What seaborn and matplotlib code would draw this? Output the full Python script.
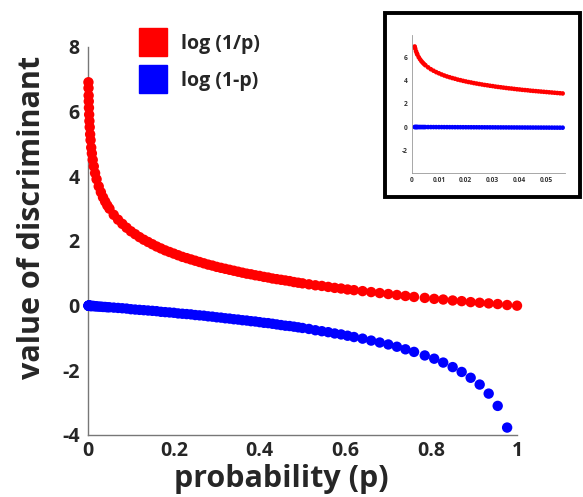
import numpy as np
import pandas as pd
import matplotlib
matplotlib.use("Agg")
import matplotlib.pyplot as plt
from matplotlib.lines import Line2D
from matplotlib.patches import Rectangle
import seaborn as sns

# ---------------- data ----------------
p_main = [0.001, 0.0012, 0.0015, 0.0018, 0.0022, 0.0027, 0.0033, 0.004, 0.005, 0.006,
          0.0075, 0.009, 0.011, 0.0135, 0.0165, 0.02, 0.025, 0.03, 0.035, 0.04, 0.045, 0.05,
          0.06, 0.07, 0.08, 0.09, 0.10, 0.11, 0.12, 0.13, 0.14, 0.15,
          0.16, 0.17, 0.18, 0.19, 0.20, 0.21, 0.22, 0.23, 0.24, 0.25,
          0.26, 0.27, 0.28, 0.29, 0.30, 0.31, 0.32, 0.33, 0.34, 0.35,
          0.36, 0.37, 0.38, 0.39, 0.40, 0.41, 0.42, 0.43, 0.44, 0.45,
          0.46, 0.47, 0.48, 0.49, 0.50,
          0.515, 0.53, 0.545, 0.56, 0.575, 0.59, 0.605, 0.62,
          0.64, 0.66, 0.68, 0.70, 0.72, 0.74, 0.76, 0.785,
          0.807, 0.828, 0.85, 0.871, 0.892, 0.913, 0.934, 0.955, 0.977, 1.0]

log_inv_p = [6.91, 6.73, 6.50, 6.32, 6.12, 5.91, 5.71, 5.52, 5.30, 5.12,
             4.89, 4.71, 4.51, 4.31, 4.10, 3.91, 3.69, 3.51, 3.35, 3.22, 3.10, 3.00,
             2.81, 2.66, 2.53, 2.41, 2.30, 2.21, 2.12, 2.04, 1.97, 1.90,
             1.83, 1.77, 1.71, 1.66, 1.61, 1.56, 1.51, 1.47, 1.43, 1.39,
             1.35, 1.31, 1.27, 1.24, 1.20, 1.17, 1.14, 1.11, 1.08, 1.05,
             1.02, 0.99, 0.97, 0.94, 0.92, 0.89, 0.87, 0.84, 0.82, 0.80,
             0.78, 0.76, 0.73, 0.71, 0.69,
             0.66, 0.63, 0.61, 0.58, 0.55, 0.53, 0.50, 0.48,
             0.45, 0.42, 0.39, 0.36, 0.33, 0.30, 0.27, 0.24,
             0.21, 0.19, 0.16, 0.14, 0.11, 0.09, 0.07, 0.05, 0.02, 0.00]

log_one_minus_p = [-0.00, -0.00, -0.00, -0.00, -0.00, -0.00, -0.00, -0.00, -0.01, -0.01,
                   -0.01, -0.01, -0.01, -0.01, -0.02, -0.02, -0.03, -0.03, -0.04, -0.04, -0.05, -0.05,
                   -0.06, -0.07, -0.08, -0.09, -0.11, -0.12, -0.13, -0.14, -0.15, -0.16,
                   -0.17, -0.19, -0.20, -0.21, -0.22, -0.24, -0.25, -0.26, -0.27, -0.29,
                   -0.30, -0.31, -0.33, -0.34, -0.36, -0.37, -0.39, -0.40, -0.42, -0.43,
                   -0.45, -0.46, -0.48, -0.49, -0.51, -0.53, -0.54, -0.56, -0.58, -0.60,
                   -0.62, -0.63, -0.65, -0.67, -0.69,
                   -0.72, -0.76, -0.79, -0.82, -0.86, -0.89, -0.93, -0.97,
                   -1.02, -1.08, -1.14, -1.20, -1.27, -1.35, -1.43, -1.54,
                   -1.64, -1.76, -1.90, -2.05, -2.23, -2.44, -2.72, -3.10, -3.77, np.nan]

p_inset = [0.001, 0.0012, 0.0015, 0.0018, 0.002, 0.0025, 0.003, 0.0035, 0.004, 0.0045,
           0.005, 0.006, 0.007, 0.008, 0.009, 0.010, 0.011, 0.012, 0.013, 0.014,
           0.015, 0.016, 0.017, 0.018, 0.019, 0.020, 0.021, 0.022, 0.023, 0.024,
           0.025, 0.026, 0.027, 0.028, 0.029, 0.030, 0.031, 0.032, 0.033, 0.034,
           0.035, 0.036, 0.037, 0.038, 0.039, 0.040, 0.041, 0.042, 0.043, 0.044,
           0.045, 0.046, 0.047, 0.048, 0.049, 0.050, 0.051, 0.052, 0.053, 0.054,
           0.055, 0.056]

inset_log_inv_p = [6.91, 6.73, 6.50, 6.32, 6.21, 5.99, 5.81, 5.65, 5.52, 5.40,
                   5.30, 5.12, 4.96, 4.83, 4.71, 4.61, 4.51, 4.42, 4.34, 4.27,
                   4.20, 4.14, 4.07, 4.02, 3.96, 3.91, 3.86, 3.82, 3.77, 3.73,
                   3.69, 3.65, 3.61, 3.58, 3.54, 3.51, 3.47, 3.44, 3.41, 3.38,
                   3.35, 3.32, 3.30, 3.27, 3.24, 3.22, 3.19, 3.17, 3.15, 3.12,
                   3.10, 3.08, 3.06, 3.04, 3.02, 3.00, 2.98, 2.96, 2.94, 2.92,
                   2.90, 2.88]

inset_log_one_minus_p = [-0.001, -0.001, -0.002, -0.002, -0.002, -0.003, -0.003, -0.004, -0.004, -0.005,
                         -0.005, -0.006, -0.007, -0.008, -0.009, -0.010, -0.011, -0.012, -0.013, -0.014,
                         -0.015, -0.016, -0.017, -0.018, -0.019, -0.020, -0.021, -0.022, -0.023, -0.024,
                         -0.025, -0.026, -0.027, -0.028, -0.029, -0.030, -0.031, -0.033, -0.034, -0.035,
                         -0.036, -0.037, -0.038, -0.039, -0.040, -0.041, -0.042, -0.043, -0.044, -0.045,
                         -0.046, -0.047, -0.048, -0.049, -0.050, -0.051, -0.052, -0.053, -0.055, -0.056,
                         -0.057, -0.058]

series_names = ["log (1/p)", "log (1-p)"]
series_colors = ["#ff0000", "#0000ff"]

main_xticks = [0, 0.2, 0.4, 0.6, 0.8, 1]
main_xticklabels = ["0", "0.2", "0.4", "0.6", "0.8", "1"]
main_yticks = [-4, -2, 0, 2, 4, 6, 8]
main_yticklabels = ["-4", "-2", "0", "2", "4", "6", "8"]
inset_xticks = [0, 0.01, 0.02, 0.03, 0.04, 0.05]
inset_xticklabels = ["0", "0.01", "0.02", "0.03", "0.04", "0.05"]
inset_yticks = [-2, 0, 2, 4, 6]
inset_yticklabels = ["-2", "0", "2", "4", "6"]

# ---------------- styling ----------------
sns.set_style("white")
plt.rcParams["font.family"] = ["Open Sans", "DejaVu Sans"]

W, H = 583, 497
fig = plt.figure(figsize=(W / 100, H / 100), dpi=100)

def fx(px):
    return px / W

def fy(py):
    return 1 - py / H

# main axes: x 0 at px 88, 1 at px 517 ; y 8 at px 47, -4 at px 435
ax = fig.add_axes([fx(88), fy(435), fx(517) - fx(88), fy(47) - fy(435)])

main_df = pd.DataFrame({
    "p": p_main * 2,
    "value": log_inv_p + log_one_minus_p,
    "series": [series_names[0]] * len(p_main) + [series_names[1]] * len(p_main),
}).dropna()

sns.scatterplot(data=main_df, x="p", y="value", hue="series",
                palette=dict(zip(series_names, series_colors)),
                s=56, linewidth=0, edgecolor="none", legend=False, ax=ax, zorder=3,
                clip_on=False)

ax.set_xlim(0, 1)
ax.set_ylim(-4, 8)
ax.set_xticks(main_xticks)
ax.set_xticklabels(main_xticklabels)
ax.set_yticks(main_yticks)
ax.set_yticklabels(main_yticklabels)
for lab in ax.get_xticklabels() + ax.get_yticklabels():
    lab.set_fontweight("bold")
    lab.set_fontsize(14)
ax.tick_params(direction="in", length=4, width=1, color="#777777", pad=4)
ax.tick_params(axis="y", pad=6)
for s in ["top", "right"]:
    ax.spines[s].set_visible(False)
for s in ["left", "bottom"]:
    ax.spines[s].set_color("#777777")
    ax.spines[s].set_linewidth(1.0)
ax.set_xlabel("probability (p)", fontsize=22, fontweight="bold")
ax.set_ylabel("value of discriminant", fontsize=22, fontweight="bold")
ax.xaxis.set_label_coords(0.45, -0.075)
ax.yaxis.set_label_coords(-0.095, 0.56)
ax.patch.set_alpha(0)

# legend
handles = [Line2D([0], [0], marker="s", linestyle="none", markersize=20,
                  markerfacecolor=c, markeredgecolor=c) for c in series_colors]
leg = fig.legend(handles, series_names, loc="upper left",
                 bbox_to_anchor=(fx(120), fy(20)), frameon=False,
                 prop={"weight": "bold", "size": 14},
                 handletextpad=0.45, labelspacing=0.9, borderpad=0.2)

# inset box
box = Rectangle((fx(385), fy(197)), fx(580) - fx(385), fy(13) - fy(197),
                transform=fig.transFigure, fill=True, facecolor="white",
                edgecolor="black", linewidth=2.8, zorder=5)
fig.add_artist(box)

# inset axes: x 0 at px 412, 0.01 per 26.9 px ; y 0 at px 127, 11.65 px per unit
x0, per = 412, 2690.0
ix = fig.add_axes([fx(x0), fy(127 + 3.95 * 11.65), fx(0.057 * per), fy(127 - 7.9 * 11.65) - fy(127 + 3.95 * 11.65)])
ix.set_zorder(6)
inset_df = pd.DataFrame({
    "p": p_inset * 2,
    "value": inset_log_inv_p + inset_log_one_minus_p,
    "series": [series_names[0]] * len(p_inset) + [series_names[1]] * len(p_inset),
})
sns.scatterplot(data=inset_df, x="p", y="value", hue="series",
                palette=dict(zip(series_names, series_colors)),
                s=11, linewidth=0, edgecolor="none", legend=False, ax=ix)
ix.set_xlim(0, 0.057)
ix.set_ylim(-3.95, 7.9)
ix.set_xticks(inset_xticks)
ix.set_xticklabels(inset_xticklabels)
ix.set_yticks(inset_yticks)
ix.set_yticklabels(inset_yticklabels)
ix.tick_params(direction="in", length=1.5, width=0.5, color="#888888",
               labelsize=4.8, labelcolor="#333333", pad=3)
for lab in ix.get_xticklabels() + ix.get_yticklabels():
    lab.set_fontweight("bold")
for s in ["top", "right"]:
    ix.spines[s].set_visible(False)
for s in ["left", "bottom"]:
    ix.spines[s].set_color("#999999")
    ix.spines[s].set_linewidth(0.6)
ix.set_xlabel("")
ix.set_ylabel("")
ix.patch.set_alpha(0)

fig.savefig("out.png", dpi=100)
